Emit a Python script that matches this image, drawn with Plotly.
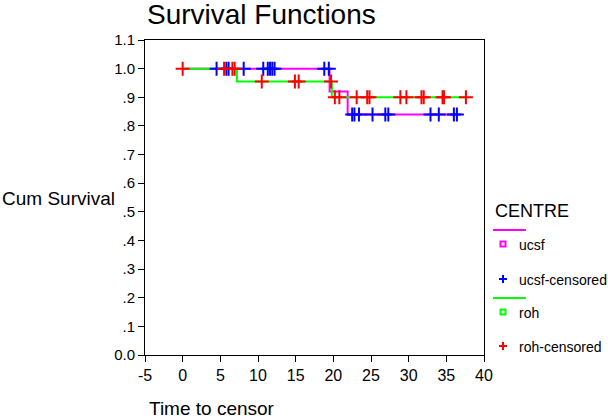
import plotly.graph_objects as go

# Kaplan-Meier steps (time, survival) per centre
ucsf_step_t = [0, 19.5, 21.9, 36.5]
ucsf_step_s = [1.0, 0.92, 0.84, 0.84]
roh_step_t = [0, 7.2, 19.8, 37.6]
roh_step_s = [1.0, 0.955, 0.90, 0.90]

# censored observation times
ucsf_cens = [4.5, 5.8, 6.1, 8.1, 10.7, 11.3, 11.6, 11.9, 12.2, 18.8, 19.4,
             22.5, 22.8, 23.4, 25.2, 26.9, 27.3, 32.9, 34.0, 36.0, 36.4]
roh_cens = [0.0, 5.5, 6.6, 6.9, 10.5, 14.9, 15.4, 19.7, 20.2, 20.8, 23.1,
            24.5, 24.8, 28.9, 29.7, 31.7, 32.0, 34.5, 34.7, 37.6]

ytick_vals = [0, .1, .2, .3, .4, .5, .6, .7, .8, .9, 1.0, 1.1]
ytick_text = ['0.0', '.1', '.2', '.3', '.4', '.5', '.6', '.7', '.8', '.9', '1.0', '1.1']
xtick_vals = [-5, 0, 5, 10, 15, 20, 25, 30, 35, 40]
xtick_text = ['-5', '0', '5', '10', '15', '20', '25', '30', '35', '40']


def surv_at(t, times, surv):
    s = surv[0]
    for tt, ss in zip(times, surv):
        if t >= tt:
            s = ss
    return s


W, H = 608, 419
L, R, T, B = 145, 484, 40, 355


def px(x):
    return (x - L) / (R - L)


def py(y):
    return (B - y) / (B - T)


FONT = "Liberation Sans, Arial, sans-serif"

fig = go.Figure()
fig.add_trace(go.Scatter(x=ucsf_step_t, y=ucsf_step_s, mode='lines', line_shape='hv',
                         line=dict(color='#ff00ff', width=2)))
fig.add_trace(go.Scatter(x=roh_step_t, y=roh_step_s, mode='lines', line_shape='hv',
                         line=dict(color='#00ff00', width=2)))
fig.add_trace(go.Scatter(x=ucsf_cens, y=[surv_at(t, ucsf_step_t, ucsf_step_s) for t in ucsf_cens],
                         mode='markers',
                         marker=dict(symbol='cross-thin', size=10, line=dict(width=2, color='#0000ff'))))
fig.add_trace(go.Scatter(x=roh_cens, y=[surv_at(t, roh_step_t, roh_step_s) for t in roh_cens],
                         mode='markers',
                         marker=dict(symbol='cross-thin', size=10, line=dict(width=2, color='#ff0000'))))

fig.update_layout(width=W, height=H, margin=dict(l=L, r=W - R, t=T, b=H - B),
                  plot_bgcolor='white', paper_bgcolor='white', showlegend=False,
                  font=dict(family=FONT, color='black'))
fig.update_xaxes(range=[-5, 40], tickvals=xtick_vals, ticktext=xtick_text, showgrid=False,
                 zeroline=False, showline=True, linecolor='black', linewidth=1, mirror=True,
                 ticks='outside', ticklen=6, tickcolor='black', tickfont=dict(size=16))
fig.update_yaxes(range=[0, 1.1], tickvals=ytick_vals, ticktext=ytick_text, showgrid=False,
                 zeroline=False, showline=True, linecolor='black', linewidth=1, mirror=True,
                 ticks='outside', ticklen=6, tickcolor='black', tickfont=dict(size=15))

ann = [
    dict(text='Survival Functions', x=px(261), y=py(14), font=dict(size=28)),
    dict(text='Cum Survival', x=px(0), y=py(198), xanchor='left', font=dict(size=19)),
    dict(text='Time to censor', x=px(147), y=py(408), xanchor='left', font=dict(size=19)),
    dict(text='CENTRE', x=px(493), y=py(211), xanchor='left', font=dict(size=18)),
    dict(text='ucsf', x=px(517), y=py(245), xanchor='left', font=dict(size=14)),
    dict(text='ucsf-censored', x=px(517), y=py(280), xanchor='left', font=dict(size=14)),
    dict(text='roh', x=px(517), y=py(313), xanchor='left', font=dict(size=14)),
    dict(text='roh-censored', x=px(517), y=py(347), xanchor='left', font=dict(size=14)),
]
for a in ann:
    a.setdefault('xanchor', 'center')
    fig.add_annotation(xref='paper', yref='paper', showarrow=False, yanchor='middle', **a)

shapes = []
for yy, col in [(230, '#ff00ff'), (298, '#00ff00')]:
    shapes.append(dict(type='line', x0=px(493), x1=px(526), y0=py(yy), y1=py(yy),
                       line=dict(color=col, width=2)))
for yy, col in [(244, '#ff00ff'), (312, '#00ff00')]:
    shapes.append(dict(type='rect', x0=px(500.5), x1=px(505.5), y0=py(yy - 2.5), y1=py(yy + 2.5),
                       line=dict(color=col, width=2)))
for yy, col in [(279, '#0000ff'), (346, '#ff0000')]:
    shapes.append(dict(type='line', x0=px(499), x1=px(507), y0=py(yy), y1=py(yy),
                       line=dict(color=col, width=2)))
    shapes.append(dict(type='line', x0=px(503), x1=px(503), y0=py(yy - 4), y1=py(yy + 4),
                       line=dict(color=col, width=2)))
for s in shapes:
    fig.add_shape(xref='paper', yref='paper', **s)

fig.write_html("out.html", config={'displayModeBar': False},
               post_script="document.body.style.margin='0';")
